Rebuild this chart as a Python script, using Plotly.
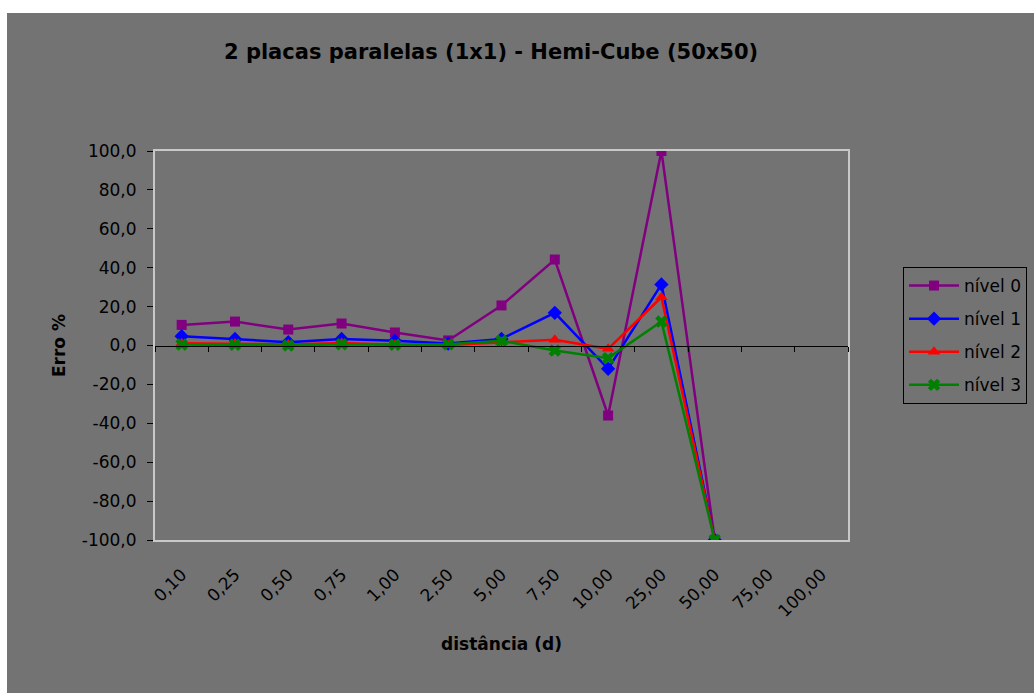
import plotly.graph_objects as go

categories = ["0,10", "0,25", "0,50", "0,75", "1,00", "2,50", "5,00", "7,50",
              "10,00", "25,00", "50,00", "75,00", "100,00"]
data_categories = categories[:11]

nivel0 = [10.6, 12.3, 8.2, 11.3, 6.7, 2.6, 20.6, 44.2, -36.0, 100.0, -100.0]
nivel1 = [4.8, 3.4, 1.7, 3.4, 2.4, 1.0, 3.4, 16.8, -12.0, 31.4, -100.0]
nivel2 = [1.2, 1.0, 0.5, 1.3, 0.4, 0.3, 1.7, 2.9, -1.7, 24.8, -100.0]
nivel3 = [0.5, 0.4, 0.0, 0.6, 0.4, 0.6, 2.4, -2.6, -6.5, 12.3, -100.0]

series_names = ["nível 0", "nível 1", "nível 2", "nível 3"]
series_values = [nivel0, nivel1, nivel2, nivel3]
series_colors = ["#800080", "#0000FF", "#FF0000", "#008000"]
series_symbols = ["square", "diamond", "triangle-up", "x"]
series_sizes = [10, 11, 11, 11]

y_tickvals = [100, 80, 60, 40, 20, 0, -20, -40, -60, -80, -100]
y_ticktext = ["100,0", "80,0", "60,0", "40,0", "20,0", "0,0", "-20,0",
              "-40,0", "-60,0", "-80,0", "-100,0"]

BG = "#737373"
FONT = "DejaVu Sans"

fig = go.Figure()

for i, (name, vals, col, sym, sz) in enumerate(zip(series_names, series_values,
                                                   series_colors, series_symbols, series_sizes)):
    fig.add_trace(go.Scatter(
        x=data_categories, y=vals, name=name, mode="lines+markers",
        line=dict(color=col, width=2.5),
        marker=dict(color=col, symbol=sym, size=sz, line=dict(width=0)),
        legendgroup=name,
    ))

# dummy trace for the zero-crossing category axis
fig.add_trace(go.Scatter(
    x=categories, y=[0] * len(categories), xaxis="x2", mode="lines",
    line=dict(color="rgba(0,0,0,0)", width=0), showlegend=False, hoverinfo="skip",
))

fig.update_layout(
    width=1034, height=693,
    margin=dict(l=155, r=186, t=151, b=153, autoexpand=False),
    paper_bgcolor="white",
    plot_bgcolor="rgba(0,0,0,0)",
    font=dict(family=FONT, size=17, color="black"),
    title=dict(text="<b>2 placas paralelas (1x1) - Hemi-Cube (50x50)</b>",
               x=0.4749, xanchor="center", y=0.925, yanchor="middle",
               font=dict(family=FONT, size=21, color="black")),
    showlegend=True,
    legend=dict(x=1.0794, xanchor="left", y=0.7018, yanchor="top",
                bgcolor=BG, bordercolor="black", borderwidth=1,
                font=dict(family=FONT, size=17, color="black"),
                tracegroupgap=8, itemwidth=50),
    xaxis=dict(type="category", categoryorder="array", categoryarray=categories,
               range=[-0.5, 12.5], showgrid=False, zeroline=False,
               showline=True, mirror=True, linecolor="#c8c8c8", linewidth=2,
               ticks="outside", ticklen=16, tickcolor="rgba(0,0,0,0)",
               tickangle=-45, tickfont=dict(family=FONT, size=17),
               title=dict(text="<b>distância (d)</b>", standoff=18,
                          font=dict(family=FONT, size=17))),
    xaxis2=dict(type="category", categoryorder="array", categoryarray=categories,
                range=[-0.5, 12.5], overlaying="x", anchor="free", position=0.5,
                showgrid=False, zeroline=False, showline=True, linecolor="black",
                linewidth=1, ticks="outside", ticklen=5, tickcolor="black",
                tickson="boundaries", showticklabels=False),
    yaxis=dict(range=[-100, 100], tickvals=y_tickvals, ticktext=y_ticktext,
               showgrid=False, zeroline=False, showline=True, mirror=True,
               linecolor="#c8c8c8", linewidth=2, ticks="outside", ticklen=6,
               tickcolor="black", ticklabelstandoff=7,
               tickfont=dict(family=FONT, size=17),
               title=dict(text="<b>Erro %</b>", standoff=12,
                          font=dict(family=FONT, size=17))),
    shapes=[dict(type="rect", xref="paper", yref="paper", layer="below",
                 x0=(7 - 155) / 693, x1=1.4, y0=-0.5, y1=(540 - 13) / 389,
                 fillcolor=BG, line=dict(width=0))],
)

fig.write_html("out.html", config={"displayModeBar": False},
               post_script="document.body.style.margin='0';document.body.style.padding='0';")
